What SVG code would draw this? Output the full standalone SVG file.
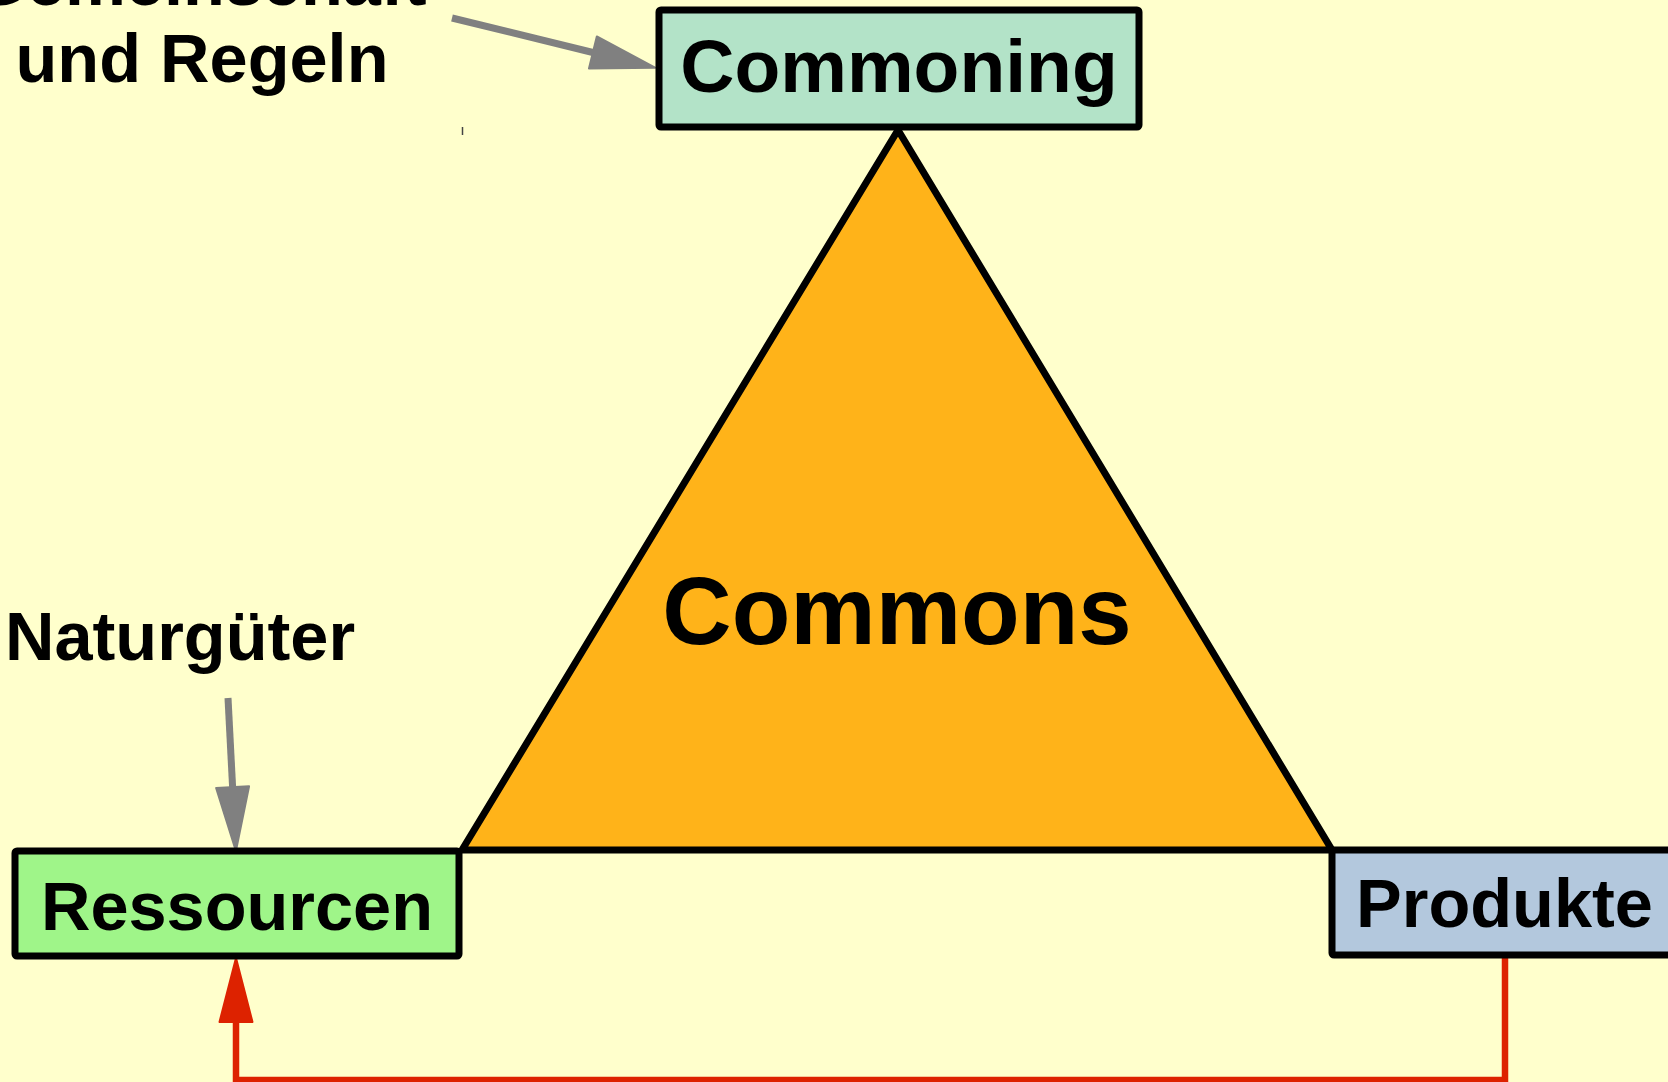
<svg xmlns="http://www.w3.org/2000/svg" width="1668" height="1082" viewBox="0 0 1668 1082">
<style>
.lbl{font-family:"Liberation Sans",Arial,sans-serif;font-weight:bold;fill:#000;text-anchor:middle}
.box{stroke:#000;stroke-width:7;stroke-linejoin:round}
.gray{fill:none;stroke:#808080;stroke-width:7}
.red{fill:none;stroke:#dd2200;stroke-width:6.5}
</style>
<defs>
<marker id="hg" markerUnits="userSpaceOnUse" markerWidth="70" markerHeight="40" refX="0" refY="16.5" orient="auto" overflow="visible">
<path d="M0,0 L64,16.5 L0,33 Z" fill="#808080" stroke="#808080" stroke-width="2" stroke-linejoin="round"/>
</marker>
<marker id="hr" markerUnits="userSpaceOnUse" markerWidth="70" markerHeight="40" refX="0" refY="16.5" orient="auto" overflow="visible">
<path d="M0,0 L64,16.5 L0,33 Z" fill="#dd2200" stroke="#dd2200" stroke-width="2" stroke-linejoin="round"/>
</marker>
</defs>
<rect x="0" y="0" width="1668" height="1082" fill="#ffffcc"/>
<g id="connectors">
<path class="gray" d="M452,18 L592.9,52.5" marker-end="url(#hg)"/>
<path class="gray" d="M228,698 L232.6,787.1" marker-end="url(#hg)"/>
<path class="red" d="M1505,955 V1080 H236 V1022" marker-end="url(#hr)"/>
<line x1="462.5" y1="127" x2="462.5" y2="135" stroke="#444" stroke-width="1.5"/>
</g>
<g id="commons">
<polygon points="898,130 462,850 1332,850" fill="#ffb319" stroke="#000" stroke-width="7" stroke-linejoin="miter"/>
<text class="lbl" x="897" y="644" font-size="96">Commons</text>
</g>
<g id="commoning">
<rect class="box" x="659" y="10" width="480" height="117" rx="2" fill="#b3e3c8"/>
<text class="lbl" x="899" y="92" font-size="75">Commoning</text>
</g>
<g id="ressourcen">
<rect class="box" x="15" y="851" width="444" height="105" rx="2" fill="#9ff589"/>
<text class="lbl" x="237" y="930" font-size="68.5">Ressourcen</text>
</g>
<g id="produkte">
<rect class="box" x="1332" y="850" width="360" height="105" rx="2" fill="#b3c8dd"/>
<text class="lbl" x="1504.5" y="927" font-size="68.5">Produkte</text>
</g>
<g id="gemeinschaft">
<text class="lbl" x="200" y="5" font-size="68.5">Gemeinschaft</text>
<text class="lbl" x="202" y="82" font-size="68.5">und Regeln</text>
</g>
<g id="naturgueter">
<text class="lbl" x="180" y="660" font-size="68.5">Naturgüter</text>
</g>
</svg>
